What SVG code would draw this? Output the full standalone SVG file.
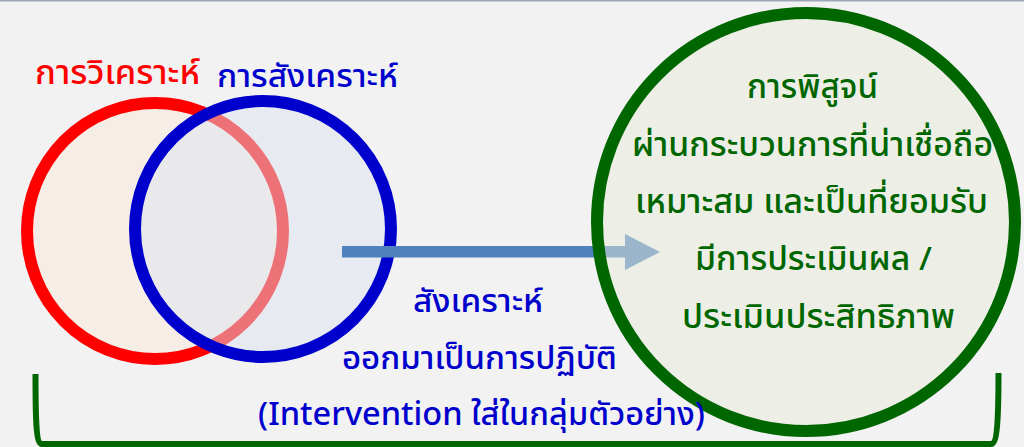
<svg xmlns="http://www.w3.org/2000/svg" width="1024" height="447" viewBox="0 0 1024 447">
  <style>
    .t { font-family: "Noto Sans", "Noto Sans Thai", "Liberation Sans", sans-serif; font-weight: 500; text-anchor: middle; }
    .red { fill: #ff0000; font-size: 33px; }
    .blue { fill: #0000cc; font-size: 32px; }
    .green { fill: #006600; font-size: 33px; }
  </style>
  <rect x="0" y="0" width="1024" height="447" fill="#f2f2f2"/>
  <rect x="0" y="0" width="1024" height="1.5" fill="#9ea6b8"/>

  <g id="analysis">
    <circle cx="155" cy="231" r="128" fill="#f6eee6" stroke="#ff0000" stroke-width="12"/>
    <text class="t red" x="117.5" y="84" textLength="165" lengthAdjust="spacingAndGlyphs">การวิเคราะห์</text>
  </g>

  <g id="synthesis">
    <circle cx="263" cy="229" r="128" fill="rgb(220,228,240)" fill-opacity="0.5" stroke="none"/>
    <circle cx="263" cy="229" r="128" fill="none" stroke="#0000cc" stroke-width="12"/>
    <text class="t blue" x="307.5" y="87" textLength="181" lengthAdjust="spacingAndGlyphs">การสังเคราะห์</text>
  </g>

  <g id="connectors">
    <rect x="342" y="246" width="284" height="11.5" fill="#4f81bd"/>
    <polygon points="625,234 660,252 625,270" fill="#4f81bd"/>
  </g>

  <g id="proof">
    <circle cx="806" cy="222" r="209" fill="rgb(232,235,218)" fill-opacity="0.5" stroke="#006600" stroke-width="12"/>
    <text class="t green" x="812.5" y="98" textLength="131" lengthAdjust="spacingAndGlyphs">การพิสูจน์</text>
    <text class="t green" x="812.5" y="156" textLength="361" lengthAdjust="spacingAndGlyphs">ผ่านกระบวนการที่น่าเชื่อถือ</text>
    <text class="t green" x="811.5" y="213" textLength="353" lengthAdjust="spacingAndGlyphs">เหมาะสม และเป็นที่ยอมรับ</text>
    <text class="t green" x="813.5" y="270" textLength="237" lengthAdjust="spacingAndGlyphs">มีการประเมินผล /</text>
    <text class="t green" x="818.5" y="328" textLength="273" lengthAdjust="spacingAndGlyphs">ประเมินประสิทธิภาพ</text>
  </g>

  <g id="intervention">
    <text class="t blue" x="478" y="312" textLength="130" lengthAdjust="spacingAndGlyphs">สังเคราะห์</text>
    <text class="t blue" x="479.5" y="369" textLength="275" lengthAdjust="spacingAndGlyphs">ออกมาเป็นการปฏิบัติ</text>
    <text class="t blue" x="481.5" y="425" textLength="447" lengthAdjust="spacingAndGlyphs">(Intervention ใส่ในกลุ่มตัวอย่าง)</text>
  </g>

  <g id="bracket">
    <path d="M35.5,374 C35.5,420 36,444 42,444 L991,444 C997,444 998.5,420 998.5,373" fill="none" stroke="#006600" stroke-width="6"/>
  </g>
</svg>
